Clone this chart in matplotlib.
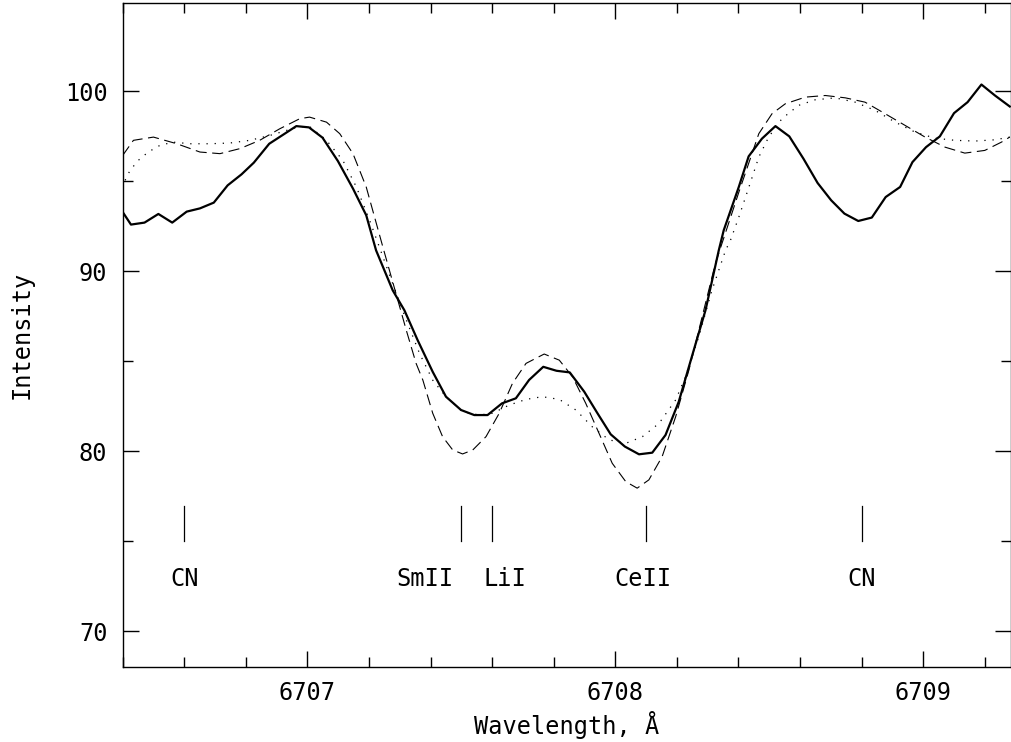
import matplotlib
matplotlib.use("Agg")
import matplotlib.pyplot as plt
from matplotlib.ticker import MultipleLocator, FormatStrFormatter

# Observed spectrum (solid)
obs_wl = [6706.400, 6706.427, 6706.471, 6706.516, 6706.561, 6706.608, 6706.651, 6706.696,
          6706.741, 6706.786, 6706.826, 6706.876, 6706.921, 6706.964, 6707.005, 6707.049,
          6707.099, 6707.148, 6707.191, 6707.223, 6707.250, 6707.277, 6707.315, 6707.358,
          6707.407, 6707.450, 6707.499, 6707.542, 6707.585, 6707.632, 6707.677, 6707.720,
          6707.766, 6707.809, 6707.852, 6707.899, 6707.942, 6707.985, 6708.031, 6708.077,
          6708.120, 6708.163, 6708.206, 6708.250, 6708.293, 6708.336, 6708.352, 6708.401,
          6708.433, 6708.476, 6708.520, 6708.565, 6708.611, 6708.657, 6708.701, 6708.744,
          6708.789, 6708.833, 6708.878, 6708.925, 6708.965, 6709.009, 6709.054, 6709.100,
          6709.144, 6709.189, 6709.233, 6709.281]
obs_int = [93.29, 92.59, 92.70, 93.18, 92.70, 93.31, 93.49, 93.81,
           94.77, 95.38, 96.03, 97.08, 97.58, 98.06, 97.99, 97.42,
           96.12, 94.59, 93.11, 91.16, 90.05, 88.94, 87.83, 86.17,
           84.41, 83.03, 82.29, 82.01, 82.01, 82.66, 82.94, 83.96,
           84.69, 84.47, 84.38, 83.31, 82.11, 80.94, 80.26, 79.83,
           79.92, 80.90, 82.75, 85.34, 87.84, 91.16, 92.27, 94.68,
           96.38, 97.36, 98.06, 97.49, 96.25, 94.90, 93.94, 93.20,
           92.79, 92.98, 94.12, 94.68, 96.06, 96.89, 97.49, 98.78,
           99.39, 100.37, 99.76, 99.15]

# Synthetic spectrum 1 (dashed)
syn1_wl = [6706.400, 6706.435, 6706.500, 6706.576, 6706.651, 6706.716, 6706.781, 6706.845,
           6706.910, 6706.975, 6707.007, 6707.062, 6707.105, 6707.148, 6707.191, 6707.245,
           6707.321, 6707.353, 6707.375, 6707.407, 6707.439, 6707.472, 6707.504, 6707.537,
           6707.580, 6707.623, 6707.666, 6707.710, 6707.769, 6707.818, 6707.861, 6707.904,
           6707.947, 6707.990, 6708.034, 6708.071, 6708.109, 6708.152, 6708.196, 6708.239,
           6708.282, 6708.325, 6708.401, 6708.466, 6708.509, 6708.552, 6708.617, 6708.682,
           6708.747, 6708.811, 6708.876, 6708.941, 6709.006, 6709.071, 6709.135, 6709.200,
           6709.254, 6709.281]
syn1_int = [96.43, 97.27, 97.45, 97.08, 96.62, 96.53, 96.81, 97.27,
            97.91, 98.47, 98.56, 98.28, 97.64, 96.53, 94.68, 91.35,
            86.73, 84.88, 83.95, 82.11, 80.81, 80.07, 79.85, 80.07,
            80.81, 82.11, 83.77, 84.88, 85.40, 85.06, 84.14, 82.66,
            81.00, 79.33, 78.31, 77.95, 78.41, 79.70, 81.92, 84.51,
            87.47, 90.43, 94.38, 97.64, 98.75, 99.30, 99.67, 99.76,
            99.63, 99.39, 98.75, 98.10, 97.45, 96.89, 96.56, 96.71,
            97.17, 97.45]

# Synthetic spectrum 2 (dotted)
syn2_wl = [6706.408, 6706.424, 6706.451, 6706.483, 6706.521, 6706.564, 6706.619, 6706.683,
           6706.748, 6706.813, 6706.878, 6706.932, 6706.975, 6707.010, 6707.062, 6707.115,
           6707.159, 6707.202, 6707.267, 6707.315, 6707.364, 6707.407, 6707.450, 6707.504,
           6707.558, 6707.601, 6707.656, 6707.710, 6707.763, 6707.818, 6707.872, 6707.925,
           6707.980, 6708.034, 6708.088, 6708.142, 6708.196, 6708.228, 6708.271, 6708.314,
           6708.358, 6708.374, 6708.401, 6708.433, 6708.466, 6708.498, 6708.541, 6708.595,
           6708.649, 6708.714, 6708.779, 6708.844, 6708.909, 6708.973, 6709.038, 6709.103,
           6709.168, 6709.233, 6709.281]
syn2_int = [95.05, 95.60, 96.16, 96.62, 96.99, 97.17, 97.08, 97.08,
            97.12, 97.27, 97.54, 97.82, 98.04, 98.00, 97.27, 96.16,
            94.68, 92.83, 89.78, 87.56, 85.44, 83.95, 83.03, 82.20,
            82.01, 82.11, 82.57, 82.88, 83.03, 82.88, 82.29, 81.36,
            80.63, 80.44, 80.81, 81.55, 82.85, 84.14, 86.36, 88.95,
            91.16, 91.72, 93.00, 94.63, 96.34, 97.45, 98.47, 99.21,
            99.52, 99.63, 99.39, 98.93, 98.28, 97.73, 97.39, 97.27,
            97.23, 97.30, 97.45]

# Line identifications
line_wl = [6706.60, 6707.50, 6707.60, 6708.10, 6708.80]
label_text = ["CN", "SmII", "LiI", "CeII", "CN"]
label_wl = [6706.60, 6707.38, 6707.64, 6708.09, 6708.80]

MONO = "DejaVu Sans Mono"
FS = 17

fig = plt.figure(figsize=(10.12, 7.42), dpi=100)
ax = fig.add_axes([0.1212, 0.1007, 0.8778, 0.8953])

ax.plot(obs_wl, obs_int, color="black", lw=1.6)
ax.plot(syn1_wl, syn1_int, color="black", lw=0.8, dashes=(10, 5))
ax.plot(syn2_wl, syn2_int, color="black", lw=0.9, dashes=(1, 5.5))

for w in line_wl:
    ax.plot([w, w], [75.0, 76.95], color="black", lw=0.9)

for w, t in zip(label_wl, label_text):
    ax.text(w, 72.9, t, ha="center", va="center", family=MONO, fontsize=FS)

ax.set_xlim(6706.40, 6709.285)
ax.set_ylim(68.0, 104.9)

ax.xaxis.set_major_locator(MultipleLocator(1))
ax.xaxis.set_minor_locator(MultipleLocator(0.2))
ax.yaxis.set_major_locator(MultipleLocator(10))
ax.yaxis.set_minor_locator(MultipleLocator(5))
ax.xaxis.set_major_formatter(FormatStrFormatter("%d"))
ax.yaxis.set_major_formatter(FormatStrFormatter("%d"))
ax.tick_params(which="both", direction="in", top=True, right=True, width=1.0)
ax.tick_params(which="major", length=11.5)
ax.tick_params(which="minor", length=7.5)
ax.tick_params(axis="x", which="major", pad=10)
ax.tick_params(axis="y", which="major", pad=11)
for lab in ax.get_xticklabels() + ax.get_yticklabels():
    lab.set_fontfamily(MONO)
    lab.set_fontsize(FS)

for s in ax.spines.values():
    s.set_linewidth(1.0)

ax.set_xlabel("Wavelength, Å", fontfamily=MONO, fontsize=FS, labelpad=4)
ax.set_ylabel("Intensity", fontfamily=MONO, fontsize=FS, labelpad=22)

fig.savefig("out.png", dpi=100)
